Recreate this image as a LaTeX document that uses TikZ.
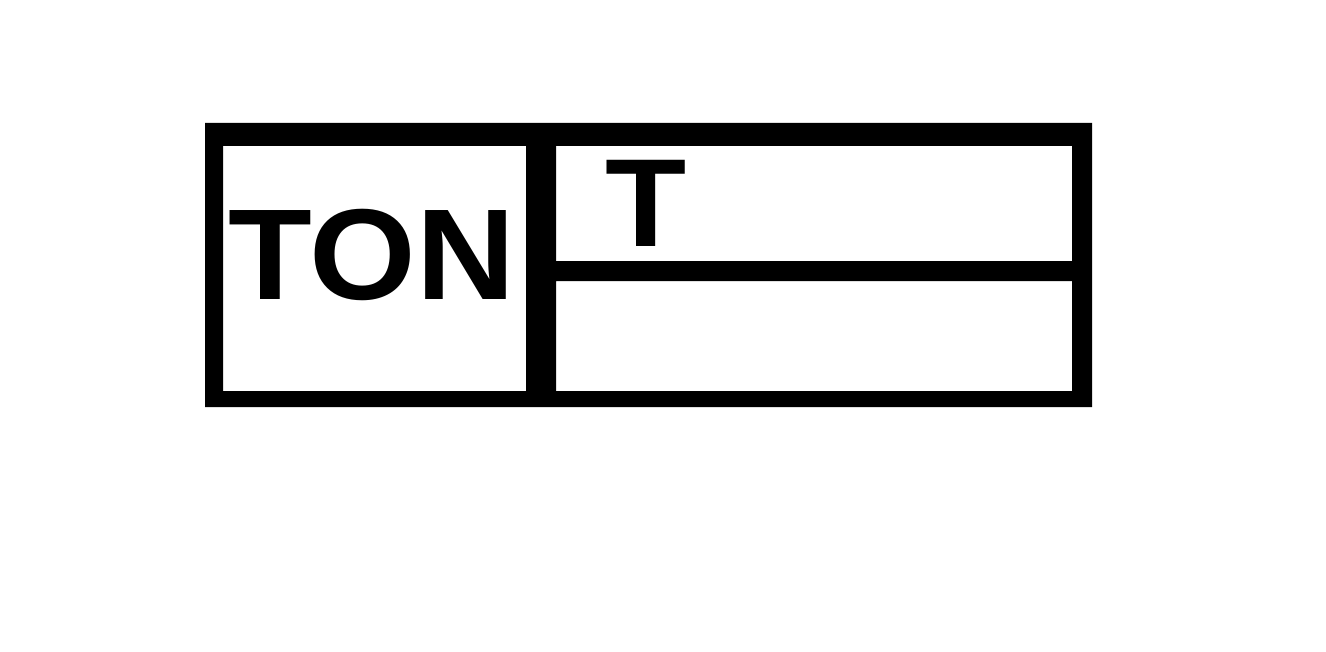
\documentclass[tikz,border=0pt]{standalone}
\usepackage{fontspec}
\setmainfont{Liberation Sans}
\begin{document}
\begin{tikzpicture}[x=0.75pt,y=-0.75pt,
    celltext/.style={inner sep=0pt,anchor=base west,xscale=1.06,font=\bfseries\fontsize{97}{97}\selectfont}]
    \useasboundingbox (0,0) rectangle (1326,652);
    % frame with the three cells
    \fill[even odd rule] (205,123) rectangle (1092,407)
        (223,146) rectangle (526,391)
        (556,146) rectangle (1072,261)
        (556,281) rectangle (1072,391);
    \node[celltext] (ton) at (228,299) {TON};
    \node[celltext,font=\bfseries\fontsize{94}{94}\selectfont] (t) at (605,247) {T};
\end{tikzpicture}
\end{document}
